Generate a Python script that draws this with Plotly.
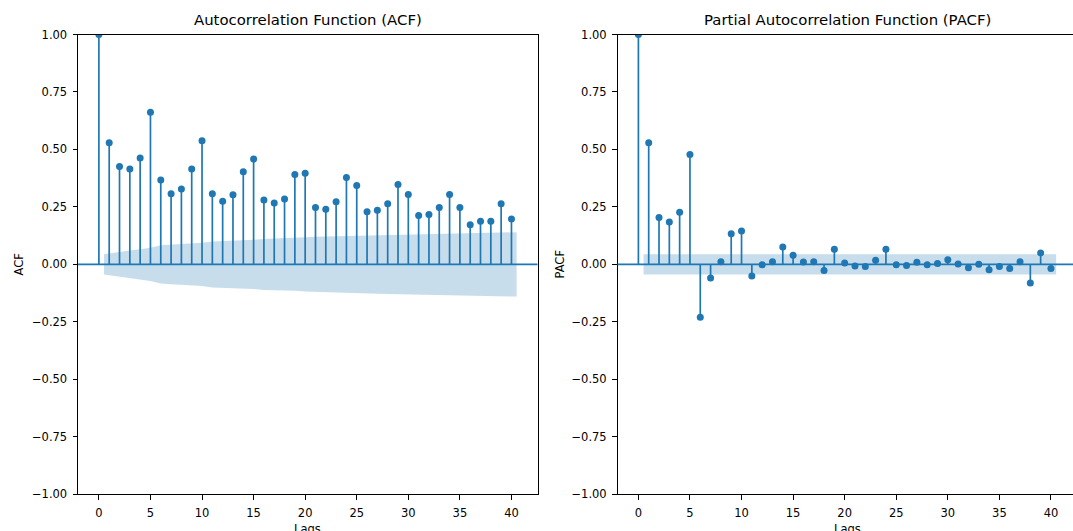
import plotly.graph_objects as go

# Lags 0..40
lags = list(range(41))

# Sample autocorrelation values
acf_values = [1.00, 0.529, 0.426, 0.415, 0.463, 0.662, 0.367, 0.307, 0.328, 0.415,
              0.538, 0.307, 0.275, 0.303, 0.403, 0.458, 0.280, 0.267, 0.284, 0.391,
              0.396, 0.248, 0.240, 0.272, 0.378, 0.343, 0.229, 0.236, 0.264, 0.348,
              0.304, 0.213, 0.217, 0.248, 0.304, 0.248, 0.173, 0.188, 0.188, 0.264,
              0.197]

# Half-width of the 95% confidence band for lags 1..40 (ACF, Bartlett)
acf_band = [0.044, 0.055, 0.061, 0.066, 0.072, 0.083, 0.086, 0.088, 0.090, 0.094,
            0.100, 0.101, 0.103, 0.105, 0.107, 0.111, 0.112, 0.114, 0.115, 0.118,
            0.120, 0.121, 0.122, 0.123, 0.125, 0.127, 0.128, 0.129, 0.130, 0.132,
            0.133, 0.134, 0.134, 0.135, 0.136, 0.137, 0.138, 0.138, 0.139, 0.140]

# Sample partial autocorrelation values
pacf_values = [1.00, 0.529, 0.204, 0.184, 0.227, 0.478, -0.230, -0.059, 0.012, 0.133,
               0.145, -0.050, -0.002, 0.012, 0.076, 0.040, 0.010, 0.012, -0.027, 0.066,
               0.006, -0.007, -0.009, 0.018, 0.066, -0.001, -0.005, 0.009, -0.002, 0.004,
               0.020, 0.002, -0.015, 0.001, -0.023, -0.009, -0.018, 0.011, -0.081, 0.050,
               -0.018]

# Half-width of the 95% confidence band for lags 1..40 (PACF)
pacf_band = [0.044] * 40

y_ticks = [-1.0, -0.75, -0.5, -0.25, 0.0, 0.25, 0.5, 0.75, 1.0]
x_ticks = [0, 5, 10, 15, 20, 25, 30, 35, 40]

BLUE = "#1f77b4"
BAND = "rgba(31,119,180,0.25)"
FONT = "DejaVu Sans"

W, H = 1073, 531


def band_x(lag_list):
    xs = [float(v) for v in lag_list[1:]]
    xs[0] -= 0.5
    xs[-1] += 0.5
    return xs


def add_panel(fig, values, band, xa, ya):
    xs = band_x(lags)
    fig.add_trace(go.Scatter(
        x=xs + xs[::-1],
        y=band + [-b for b in band[::-1]],
        fill="toself", fillcolor=BAND, line=dict(width=0),
        mode="lines", hoverinfo="skip", showlegend=False,
        xaxis=xa, yaxis=ya))
    # zero line across the whole axis
    fig.add_shape(type="line", xref=f"{xa} domain", yref=ya,
                  x0=0, x1=1, y0=0, y1=0,
                  line=dict(color=BLUE, width=1.7))
    sx, sy = [], []
    for k, v in zip(lags, values):
        sx += [k, k, None]
        sy += [0, v, None]
    fig.add_trace(go.Scatter(x=sx, y=sy, mode="lines",
                             line=dict(color=BLUE, width=1.7),
                             hoverinfo="skip", showlegend=False,
                             xaxis=xa, yaxis=ya))
    fig.add_trace(go.Scatter(x=lags, y=values, mode="markers",
                             marker=dict(color=BLUE, size=7),
                             showlegend=False, cliponaxis=True,
                             xaxis=xa, yaxis=ya))


fig = go.Figure()
add_panel(fig, acf_values, acf_band, "x", "y")
add_panel(fig, pacf_values, pacf_band, "x2", "y2")

left1, right1 = 78.0, 537.5
left2, right2 = 617.5, 1073.0
top, bottom = 34.5, 494.3
px_per_lag = (right1 - left1) / 44.55
x2_max = -2.025 + (right2 - left2) / px_per_lag

axis_common = dict(
    showgrid=False, zeroline=False, showline=True, linecolor="black",
    linewidth=1, ticks="outside", ticklen=4.5, tickwidth=1, tickcolor="black",
    tickfont=dict(family=FONT, size=11.5, color="black"), automargin=False,
)

ydom = [(H - bottom) / H, (H - top) / H]

fig.update_layout(
    width=W, height=H,
    margin=dict(l=0, r=0, t=0, b=0),
    paper_bgcolor="white", plot_bgcolor="white",
    xaxis=dict(domain=[left1 / W, right1 / W], range=[-2.025, 42.525],
               tickvals=x_ticks, mirror=True, anchor="y",
               ticklabelstandoff=3, **axis_common),
    yaxis=dict(domain=ydom, range=[-1, 1], tickvals=y_ticks,
               tickformat=".2f", mirror=True, anchor="x",
               ticklabelstandoff=3, **axis_common),
    xaxis2=dict(domain=[left2 / W, right2 / W], range=[-2.025, x2_max],
                tickvals=x_ticks, mirror=True, anchor="y2",
                ticklabelstandoff=3, **axis_common),
    yaxis2=dict(domain=ydom, range=[-1, 1], tickvals=y_ticks,
                tickformat=".2f", mirror=False, anchor="x2",
                ticklabelstandoff=3, **axis_common),
)

ann_font = dict(family=FONT, size=11.5, color="black")
title_font = dict(family=FONT, size=14.9, color="black")
acf_center = (left1 + right1) / 2 / W
pacf_center = (left2 + (left2 + 44.55 * px_per_lag)) / 2 / W

fig.add_annotation(text="Autocorrelation Function (ACF)", x=acf_center,
                   y=(H - 20.5) / H, xref="paper", yref="paper",
                   showarrow=False, font=title_font, xanchor="center", yanchor="middle")
fig.add_annotation(text="Partial Autocorrelation Function (PACF)", x=pacf_center,
                   y=(H - 20.5) / H, xref="paper", yref="paper",
                   showarrow=False, font=title_font, xanchor="center", yanchor="middle")
fig.add_annotation(text="Lags", x=acf_center, y=(H - 529) / H, xref="paper",
                   yref="paper", showarrow=False, font=ann_font,
                   xanchor="center", yanchor="middle")
fig.add_annotation(text="Lags", x=pacf_center, y=(H - 529) / H, xref="paper",
                   yref="paper", showarrow=False, font=ann_font,
                   xanchor="center", yanchor="middle")
fig.add_annotation(text="ACF", x=18 / W, y=(H - 264.5) / H, xref="paper",
                   yref="paper", showarrow=False, font=ann_font, textangle=-90,
                   xanchor="center", yanchor="middle")
fig.add_annotation(text="PACF", x=559 / W, y=(H - 264.5) / H, xref="paper",
                   yref="paper", showarrow=False, font=ann_font, textangle=-90,
                   xanchor="center", yanchor="middle")

fig.write_html("out.html")
